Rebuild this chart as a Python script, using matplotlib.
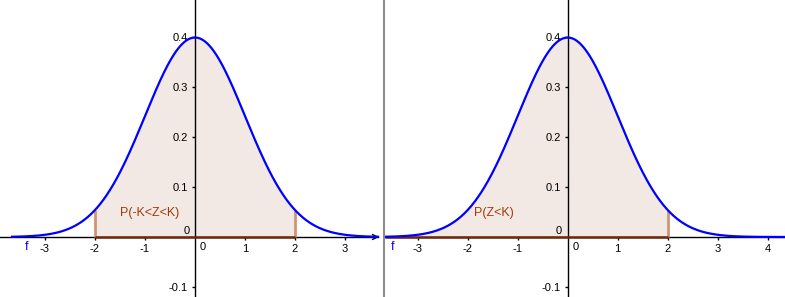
import numpy as np
import matplotlib
matplotlib.use("Agg")
import matplotlib.pyplot as plt
from matplotlib.lines import Line2D

# f = standard normal density, shaded between the bounds below
mu, sigma = 0.0, 1.0
K = 2.0
xticks_left = [-3, -2, -1, 1, 2, 3]
xticks_right = [-3, -2, -1, 1, 2, 3, 4]
yticks = [-0.1, 0.1, 0.2, 0.3, 0.4]
area_labels = ["P(-K<Z<K)", "P(Z<K)"]


def f(x):
    return np.exp(-0.5 * ((x - mu) / sigma) ** 2) / (sigma * np.sqrt(2 * np.pi))


plt.rcParams["font.family"] = ["Liberation Sans", "DejaVu Sans"]
BLUE = "#0000ff"
FILL = "#f2e9e5"
EDGE = "#cc9676"
BASE = "#6e2a0a"
TXT = "#a03c0a"

W, H = 785, 297
fig = plt.figure(figsize=(W / 100, H / 100), dpi=100)

# pixel layout: 50 px per x unit, 500 px per y unit
panels = [
    dict(rect=[0, 0, 382 / W, 1], xlim=(-3.9, 3.74), ticks=xticks_left,
         lo=-K, label=area_labels[0], lab_xy=(-0.9, 0.048), f_x=-3.36,
         curve=(-3.66, 3.66), arrow=True),
    dict(rect=[385 / W, 0, 400 / W, 1], xlim=(-3.654, 4.346), ticks=xticks_right,
         lo=None, label=area_labels[1], lab_xy=(-1.47, 0.048), f_x=-3.51,
         curve=(-3.654, 4.346), arrow=False),
]

for p in panels:
    ax = fig.add_axes(p["rect"])
    ax.set_xlim(*p["xlim"])
    ax.set_ylim(-0.12, 0.474)
    ax.patch.set_alpha(0)

    for s in ("top", "right"):
        ax.spines[s].set_visible(False)
    ax.spines["bottom"].set_position(("data", 0))
    ax.spines["left"].set_position(("data", 0))
    for s in ("bottom", "left"):
        ax.spines[s].set_linewidth(1)
        ax.spines[s].set_zorder(2)
    if p["arrow"]:
        ax.spines["bottom"].set_bounds(p["xlim"][0], 3.66)
        ax.annotate("", xy=(3.68, 0), xytext=(3.5, 0),
                    arrowprops=dict(arrowstyle="->", lw=1, color="k",
                                    shrinkA=0, shrinkB=0, mutation_scale=9))

    ax.set_xticks(p["ticks"])
    ax.set_xticklabels([str(t) for t in p["ticks"]])
    ax.set_yticks(yticks)
    ax.set_yticklabels([f"{t:g}" for t in yticks])
    ax.tick_params(direction="out", length=2.5, width=1, labelsize=8,
                   colors="k", pad=2.5)

    # shaded area
    lo = p["lo"] if p["lo"] is not None else p["xlim"][0]
    xs = np.linspace(lo, K, 400)
    ax.fill_between(xs, 0, f(xs), color=FILL, lw=0, zorder=1)
    if p["lo"] is not None:
        ax.vlines([p["lo"], K], 0, f(np.array([p["lo"], K])), color=EDGE, lw=2, zorder=3)
    else:
        ax.vlines([K], 0, f(np.array([K])), color=EDGE, lw=2, zorder=3)
    ax.plot([lo, K], [0, 0], color=BASE, lw=1.8, zorder=3, solid_capstyle="butt")

    # density curve
    xc = np.linspace(*p["curve"], 600)
    ax.plot(xc, f(xc), color=BLUE, lw=1.6, zorder=4)

    ax.text(*p["lab_xy"], p["label"], color=TXT, fontsize=9, ha="center", va="center")
    ax.text(p["f_x"], -0.02, "f", color=BLUE, fontsize=9, ha="center", va="center")
    ax.text(0.16, -0.019, "0", fontsize=8, ha="center", va="center")
    ax.text(-0.11, 0.012, "0", fontsize=8, ha="right", va="center")

fig.add_artist(Line2D([383.5 / W] * 2, [0, 1], color="#8c8c8c", lw=1.5))

fig.savefig("out.png", dpi=100)
